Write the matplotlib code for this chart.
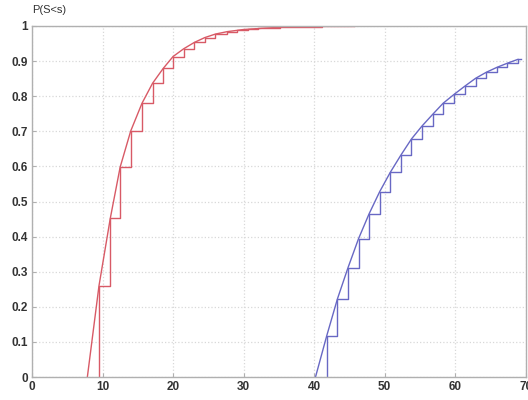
import matplotlib
matplotlib.use("Agg")
import matplotlib.pyplot as plt

# Red (fast) distribution: smooth CDF and step (empirical) values
red_curve_x = [7.85, 9.5, 11.1, 12.5, 14.0, 15.6, 17.1, 18.6, 20.0, 21.5, 23.0, 24.5, 26.0, 27.7, 30.0, 33.0, 36.0, 40.0, 43.0, 46.0]
red_curve_y = [0.0, 0.26, 0.452, 0.598, 0.701, 0.78, 0.837, 0.879, 0.913, 0.935, 0.953, 0.967, 0.977, 0.984, 0.99, 0.994, 0.997, 0.999, 0.9995, 1.0]
red_step_x = [9.5, 11.1, 12.5, 14.0, 15.6, 17.1, 18.6, 20.0, 21.5, 23.0, 24.5, 26.0, 27.6, 29.1, 30.6, 32.1, 33.6, 35.1, 36.6, 38.1, 39.6, 41.1, 42.6, 44.1, 45.6]
red_step_y = [0.26, 0.452, 0.598, 0.701, 0.78, 0.837, 0.879, 0.913, 0.935, 0.953, 0.967, 0.977, 0.984, 0.988, 0.991, 0.993, 0.995, 0.996, 0.997, 0.998, 0.998, 0.999, 0.999, 0.9995, 0.9995]

# Blue (slow) distribution
blue_curve_x = [40.2, 41.8, 43.3, 44.8, 46.3, 47.8, 49.3, 50.8, 52.3, 53.8, 55.3, 56.8, 58.3, 59.9, 61.4, 62.9, 64.4, 65.9, 67.4, 68.9]
blue_curve_y = [0.0, 0.118, 0.222, 0.311, 0.394, 0.465, 0.528, 0.583, 0.632, 0.678, 0.715, 0.748, 0.78, 0.806, 0.829, 0.851, 0.868, 0.882, 0.894, 0.905]
blue_step_x = [41.8, 43.3, 44.8, 46.3, 47.8, 49.3, 50.8, 52.3, 53.8, 55.3, 56.8, 58.3, 59.9, 61.4, 62.9, 64.4, 65.9, 67.4, 68.9, 69.3]
blue_step_y = [0.118, 0.222, 0.311, 0.394, 0.465, 0.528, 0.583, 0.632, 0.678, 0.715, 0.748, 0.78, 0.806, 0.829, 0.851, 0.868, 0.882, 0.894, 0.905, 0.905]

x_ticks = [0, 10, 20, 30, 40, 50, 60, 70]
y_ticks = [0, 0.1, 0.2, 0.3, 0.4, 0.5, 0.6, 0.7, 0.8, 0.9, 1]
y_tick_labels = ["0", "0.1", "0.2", "0.3", "0.4", "0.5", "0.6", "0.7", "0.8", "0.9", "1"]

RED = "#d85a66"
BLUE = "#6868c4"

fig = plt.figure(figsize=(5.28, 4.0), dpi=100)
ax = fig.add_axes([0.0606, 0.0575, 0.935, 0.8775])

ax.plot(red_curve_x, red_curve_y, color=RED, lw=1.0)
ax.step([red_step_x[0]] + red_step_x, [0.0] + red_step_y, where="post", color=RED, lw=1.0)
ax.plot(blue_curve_x, blue_curve_y, color=BLUE, lw=1.0)
ax.step([blue_step_x[0]] + blue_step_x, [0.0] + blue_step_y, where="post", color=BLUE, lw=1.0)

ax.set_xlim(0, 70)
ax.set_ylim(0, 1)
ax.set_xticks(x_ticks)
ax.set_xticklabels([str(t) for t in x_ticks])
ax.set_yticks(y_ticks)
ax.set_yticklabels(y_tick_labels)
ax.grid(True, color="#d8d8d8", linestyle=":", lw=0.9)
for s in ax.spines.values():
    s.set_color("#b0b0b0")
    s.set_linewidth(1.0)
ax.tick_params(direction="in", length=3, color="#b0b0b0", labelsize=8.5,
               labelcolor="#333333", pad=3)
for lab in ax.get_xticklabels() + ax.get_yticklabels():
    lab.set_fontweight("bold")
    lab.set_family("Liberation Sans")

fig.text(0.0606, 0.962, "P(S<s)", fontsize=8, color="#333333", family="Liberation Sans",
         ha="left", va="bottom")

fig.savefig("out.png", dpi=100)
